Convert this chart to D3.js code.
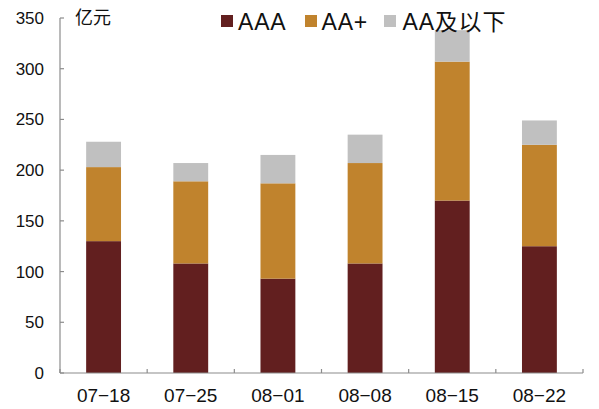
<!DOCTYPE html>
<html><head><meta charset="utf-8">
<script src="https://cdn.jsdelivr.net/npm/d3@7"></script>
<style>body{margin:0;background:#fff}svg{display:block}</style>
</head><body><svg id="c" width="599" height="409"></svg>
<script>
const categories = ["07-18","07-25","08-01","08-08","08-15","08-22"];
const seriesNames = ["AAA","AA+","AA及以下"];
const aaa = [130,108,93,108,170,125];
const aaPlus = [73,81,94,99,137,100];
const aaBelow = [25,18,28,28,31,24];
const yTicks = [0,50,100,150,200,250,300,350];
const unitLabel = "亿元";
const colors = ["#621F1F","#C0832D","#C0C0C0"];

(function(){
const svg = d3.select("#c");
const mLeft = 60, mRight = 583, mTop = 18, mBottom = 373;
const x = d3.scaleBand().domain(categories).range([mLeft,mRight]).paddingInner(0.6).paddingOuter(0.3);
const y = d3.scaleLinear().domain([0,350]).range([mBottom,mTop]);

const rows = categories.map((c,i)=>({cat:c, "AAA":aaa[i], "AA+":aaPlus[i], "AA及以下":aaBelow[i]}));
const stacked = d3.stack().keys(seriesNames)(rows);

const latin = "'Liberation Sans', Arial, 'Noto Sans CJK SC', sans-serif";
const axisColor = "#8c8c8c";

// bars
svg.append("g").selectAll("g").data(stacked).join("g")
  .attr("fill",(d,i)=>colors[i])
  .selectAll("rect").data(d=>d).join("rect")
  .attr("x",d=>x(d.data.cat))
  .attr("width",x.bandwidth())
  .attr("y",d=>y(d[1]))
  .attr("height",d=>y(d[0])-y(d[1]));

// y axis
const ga = svg.append("g");
ga.append("line").attr("x1",mLeft).attr("x2",mLeft).attr("y1",y(0)).attr("y2",y(350))
  .attr("stroke",axisColor).attr("stroke-width",1.2);
ga.selectAll(".yt").data(yTicks).join("line").attr("class","yt")
  .attr("x1",mLeft).attr("x2",mLeft+4).attr("y1",d=>y(d)).attr("y2",d=>y(d))
  .attr("stroke",axisColor).attr("stroke-width",1.2);
ga.selectAll(".yl").data(yTicks).join("text").attr("class","yl")
  .attr("x",44).attr("y",d=>y(d)).attr("dy","0.35em")
  .attr("text-anchor","end").attr("font-family",latin).attr("font-size",17).attr("fill","#111")
  .text(d=>d);

// x axis
ga.append("line").attr("x1",mLeft).attr("x2",mRight).attr("y1",y(0)).attr("y2",y(0))
  .attr("stroke",axisColor).attr("stroke-width",1.2);
const step = x.step();
ga.selectAll(".xt").data(d3.range(categories.length+1)).join("line").attr("class","xt")
  .attr("x1",i=>mLeft+i*step).attr("x2",i=>mLeft+i*step)
  .attr("y1",y(0)).attr("y2",y(0)-4)
  .attr("stroke",axisColor).attr("stroke-width",1.2);
ga.selectAll(".xl").data(categories).join("text").attr("class","xl")
  .attr("x",d=>x(d)+x.bandwidth()/2).attr("y",401.5)
  .attr("text-anchor","middle").attr("font-family",latin).attr("font-size",19).attr("fill","#111")
  .text(d=>d.replace("-","\u2212"));

// unit
svg.append("text").attr("x",75).attr("y",24).attr("font-family","'Noto Sans CJK SC', sans-serif")
  .attr("font-size",18).attr("fill","#111").text(unitLabel);

// legend
const legX = [221,305,384], legTextX = [238,321.5,402.5];
const lg = svg.append("g");
seriesNames.forEach((s,i)=>{
  lg.append("rect").attr("x",legX[i]).attr("y",15).attr("width",12).attr("height",12).attr("fill",colors[i]);
  lg.append("text").attr("x",legTextX[i]).attr("y",29.5).attr("font-family",latin)
    .attr("font-size",23).attr("letter-spacing","0.8px").attr("fill","#111").text(s);
});
})();
</script></body></html>
